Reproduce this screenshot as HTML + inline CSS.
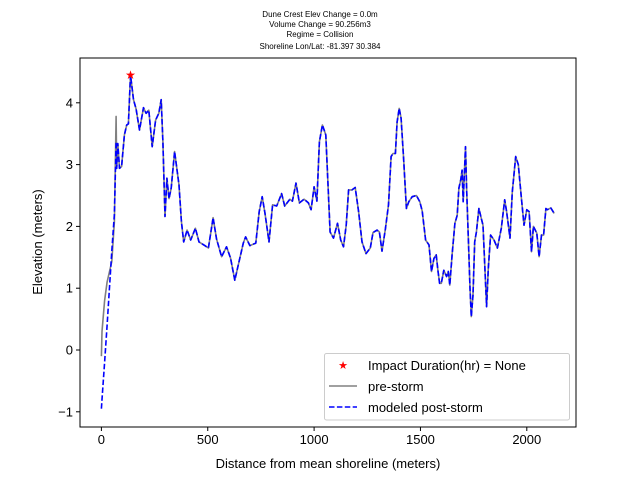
<!DOCTYPE html>
<html><head><meta charset="utf-8"><style>
body{margin:0;background:#fff;}
svg{display:block;font-family:"Liberation Sans","DejaVu Sans",sans-serif;}
</style></head><body>
<svg id="chart" width="640" height="480" viewBox="0 0 640 480">
<rect width="640" height="480" fill="#fff"/>
<g font-size="8" text-anchor="middle" fill="#000">
<text x="320" y="17">Dune Crest Elev Change = 0.0m</text>
<text x="320" y="27">Volume Change = 90.256m3</text>
<text x="320" y="37">Regime = Collision</text>
<text x="320" y="49">Shoreline Lon/Lat: -81.397 30.384</text>
</g>
<g id="plot"></g>
</svg>
<script>
const distances=[0,3,15,27,49,61,69,72,77,85,95,108,119,127,137,151,163,179,198,210,223,239,255,270,281,289,299,308,318,328,344,365,376,387,403,420,442,459,486,503,525,541,565,588,607,627,643,667,678,698,726,742,756,769,788,805,824,847,862,886,898,915,931,953,973,986,1000,1013,1025,1039,1055,1075,1091,1110,1125,1138,1151,1162,1178,1193,1209,1225,1244,1264,1277,1296,1307,1319,1335,1350,1362,1371,1382,1390,1400,1409,1421,1434,1445,1461,1481,1497,1508,1524,1540,1552,1563,1574,1582,1590,1598,1610,1623,1631,1638,1649,1662,1673,1681,1689,1696,1701,1705,1712,1717,1728,1733,1739,1747,1755,1763,1775,1786,1794,1803,1811,1819,1830,1846,1862,1880,1896,1905,1921,1932,1948,1960,1972,1987,2000,2011,2022,2031,2047,2058,2069,2079,2090,2097,2113,2129];
const common=[2.94,3.34,2.94,2.97,3.48,3.64,3.66,4.45,4.05,3.9,3.56,3.92,3.83,3.88,3.29,3.72,3.83,4.05,3.37,2.16,2.78,2.45,2.62,3.21,2.67,2.08,1.75,1.94,1.78,1.97,1.75,1.69,1.65,2.14,1.8,1.51,1.67,1.49,1.13,1.37,1.73,1.83,1.69,1.73,2.24,2.48,2.21,1.75,2.35,2.33,2.53,2.33,2.44,2.41,2.7,2.38,2.44,2.38,2.27,2.64,2.41,3.37,3.64,3.48,1.91,1.81,2.05,1.78,1.67,2.02,2.59,2.59,2.63,2.24,1.75,1.56,1.65,1.9,1.94,1.91,1.6,1.96,2.35,3.13,3.18,3.18,3.69,3.91,3.75,3.1,2.29,2.4,2.48,2.5,2.4,2.25,1.78,1.7,1.27,1.48,1.54,1.29,1.08,1.08,1.29,1.19,1.27,1.05,1.54,2.05,2.18,2.62,2.75,2.91,2.4,2.75,3.29,2.62,1.54,1.0,0.54,0.89,1.75,1.91,2.29,2.13,2.02,1.32,0.7,1.32,1.86,1.78,1.65,1.97,2.43,2.24,1.81,2.56,3.13,3.0,2.56,2.02,2.27,2.24,1.59,2.0,1.89,1.51,1.86,1.86,2.29,2.27,2.3,2.21];
const preStart=[-0.1,0.3,0.8,1.1,1.43,2.08,3.78];
const postStart=[-0.95,-0.8,-0.2,0.4,1.6,2.2,3.37];
const preElev=preStart.concat(common);
const postElev=postStart.concat(common);
const peakD=[137], peakE=[4.45];
const xTicks=[0,500,1000,1500,2000];
const yTicks=[-1,0,1,2,3,4];

const L=80,R=576,T=58,B=427;
const xs=d=>101.4+d*0.2127;
const ys=e=>350-e*61.8;
const NS="http://www.w3.org/2000/svg";
const g=document.getElementById('plot');
function mk(tag,attrs,parent){const el=document.createElementNS(NS,tag);for(const k in attrs)el.setAttribute(k,attrs[k]);(parent||g).appendChild(el);return el;}

function pathFor(arr){let d='';let started=false;for(let i=0;i<distances.length;i++){if(arr[i]==null)continue;d+=(started?'L':'M')+xs(distances[i]).toFixed(1)+','+ys(arr[i]).toFixed(1);started=true;}return d;}
const pre=mk('path',{d:pathFor(preElev),fill:'none',stroke:'#808080','stroke-width':1.6,'stroke-linejoin':'round'});


const post=mk('path',{d:pathFor(postElev),fill:'none',stroke:'#0000ff','stroke-width':1.6,'stroke-dasharray':'5.5,2.4','stroke-linejoin':'round'});


for(let i=0;i<peakD.length;i++){
  const s=mk('text',{x:xs(peakD[i]),y:ys(peakE[i])+4,'font-size':12,fill:'#ff0000','text-anchor':'middle'});
  s.textContent='★';
  
  
}
const frame=mk('rect',{x:L,y:T,width:R-L,height:B-T,fill:'none',stroke:'#000','stroke-width':1});


xTicks.forEach(t=>{
  const x=xs(t);
  mk('line',{x1:x,x2:x,y1:B,y2:B+4,stroke:'#000'});
  const tx=mk('text',{x:x,y:B+17,'font-size':13,'text-anchor':'middle'});
  tx.textContent=t;
  
  
});
yTicks.forEach(t=>{
  const y=ys(t);
  mk('line',{x1:L-4,x2:L,y1:y,y2:y,stroke:'#000'});
  const tx=mk('text',{x:L-7,y:y+4.5,'font-size':13,'text-anchor':'end'});
  tx.textContent=t<0?'\u2212'+(-t):t;
  
  
});
const xl=mk('text',{x:(L+R)/2,y:468,'font-size':13,'text-anchor':'middle'});
xl.textContent='Distance from mean shoreline (meters)';


const yl=mk('text',{x:0,y:0,'font-size':13,'text-anchor':'middle',transform:'translate(42,242) rotate(-90)'});
yl.textContent='Elevation (meters)';



const lg=mk('g',{});


mk('rect',{x:324.5,y:353.5,width:245,height:66.5,rx:2,fill:'#fff','fill-opacity':0.8,stroke:'#ccc'},lg);
const st=mk('text',{x:343,y:369,'font-size':11,fill:'#ff0000','text-anchor':'middle'},lg);
st.textContent='★';
mk('line',{x1:329,x2:357,y1:386,y2:386,stroke:'#808080','stroke-width':1.5},lg);
mk('line',{x1:329,x2:357,y1:407,y2:407,stroke:'#0000ff','stroke-width':1.5,'stroke-dasharray':'5.5,2.4'},lg);
[['Impact Duration(hr) = None',370],['pre-storm',391],['modeled post-storm',412]].forEach(([t,y])=>{
  const e=mk('text',{x:368,y:y,'font-size':13},lg);
  e.textContent=t;
  
  
});
</script>
</body></html>
